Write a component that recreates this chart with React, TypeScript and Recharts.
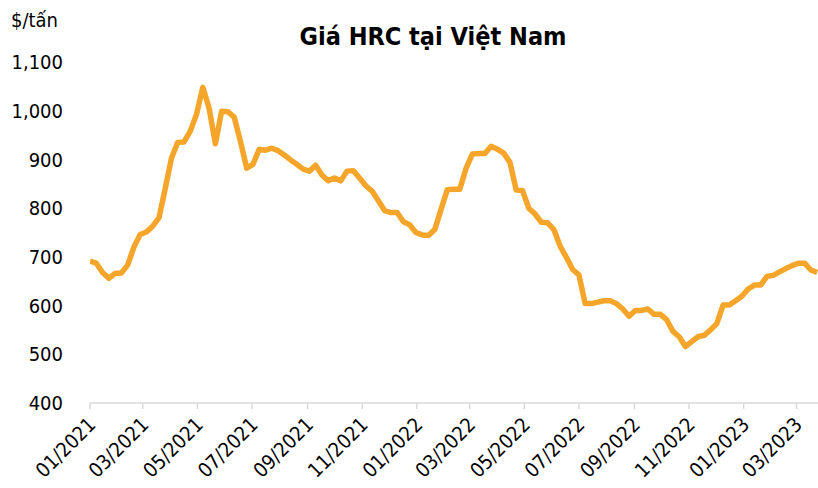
import { LineChart, Line, XAxis, YAxis } from "recharts";

// weekly HRC price, USD/ton, first point 01/01/2021
const prices = [
  691, 687, 668, 656, 666, 667, 683, 720, 746, 751,
  763, 780, 840, 903, 935, 936, 958, 993, 1048, 1005,
  932, 999, 998, 987, 937, 882, 890, 921, 919, 923,
  918, 909, 899, 890, 880, 876, 888, 868, 856, 862,
  856, 876, 877, 862, 846, 835, 815, 795, 791, 791,
  772, 766, 750, 745, 744, 756, 797, 838, 839, 839,
  882, 911, 912, 912, 927, 921, 913, 894, 837, 836,
  800, 788, 771, 770, 756, 722, 699, 674, 663, 604,
  604, 607, 610, 610, 604, 593, 578, 590, 590, 593,
  582, 582, 571, 547, 536, 516, 526, 536, 539, 550,
  563, 601, 601, 610, 619, 634, 642, 642, 660, 662,
  669, 676, 682, 687, 687, 673, 668,
];

// days since 01/01/2021 for each axis label
const tickDays = [0, 59, 120, 181, 243, 304, 365, 424, 485, 546, 608, 669, 730, 789];
const tickLabels = [
  "01/2021", "03/2021", "05/2021", "07/2021", "09/2021", "11/2021",
  "01/2022", "03/2022", "05/2022", "07/2022", "09/2022", "11/2022",
  "01/2023", "03/2023",
];
const yTicks = [400, 500, 600, 700, 800, 900, 1000, 1100];

const FONT = "'DejaVu Sans Condensed', 'DejaVu Sans', sans-serif";

const data = prices.map((p, i) => ({ day: i * 7, price: p }));

const DateTick = (props: any) => {
  const { x, y, payload } = props;
  const idx = tickDays.indexOf(payload.value);
  return (
    <g transform={`translate(${x + 2},${y + 10})`}>
      <text transform="rotate(-45)" textAnchor="end" dy="0.35em" fontSize={20} fill="#000" fontFamily={FONT}>
        {tickLabels[idx]}
      </text>
    </g>
  );
};

export default function App() {
  return (
    <div style={{ position: "absolute", left: 0, top: 0, width: 818, height: 488, background: "#fff", fontFamily: FONT }}>
      <div style={{ position: "absolute", left: 11, top: 8, fontSize: 20, color: "#000" }}>$/tấn</div>
      <div style={{ position: "absolute", left: 0, width: 866, top: 22, textAlign: "center", fontSize: 25, fontWeight: 700, color: "#000" }}>
        Giá HRC tại Việt Nam
      </div>
      <LineChart width={818} height={488} data={data} margin={{ top: 62, right: 0, bottom: 0, left: 0 }}>
        <XAxis
          dataKey="day"
          type="number"
          domain={[0, 813]}
          ticks={tickDays}
          interval={0}
          height={85}
          stroke="#d9d9d9"
          strokeWidth={1.5}
          tickSize={6}
          tick={<DateTick />}
          allowDataOverflow
        />
        <YAxis
          domain={[400, 1100]}
          ticks={yTicks}
          width={90}
          axisLine={false}
          tickLine={false}
          tickSize={0}
          tickMargin={27}
          tick={{ fontSize: 20, fill: "#000", fontFamily: FONT }}
          tickFormatter={(v: number) => v.toLocaleString("en-US")}
        />
        <Line
          type="linear"
          dataKey="price"
          stroke="#F5A52A"
          strokeWidth={5.5}
          strokeLinejoin="round"
          dot={false}
          isAnimationActive={false}
        />
      </LineChart>
    </div>
  );
}
